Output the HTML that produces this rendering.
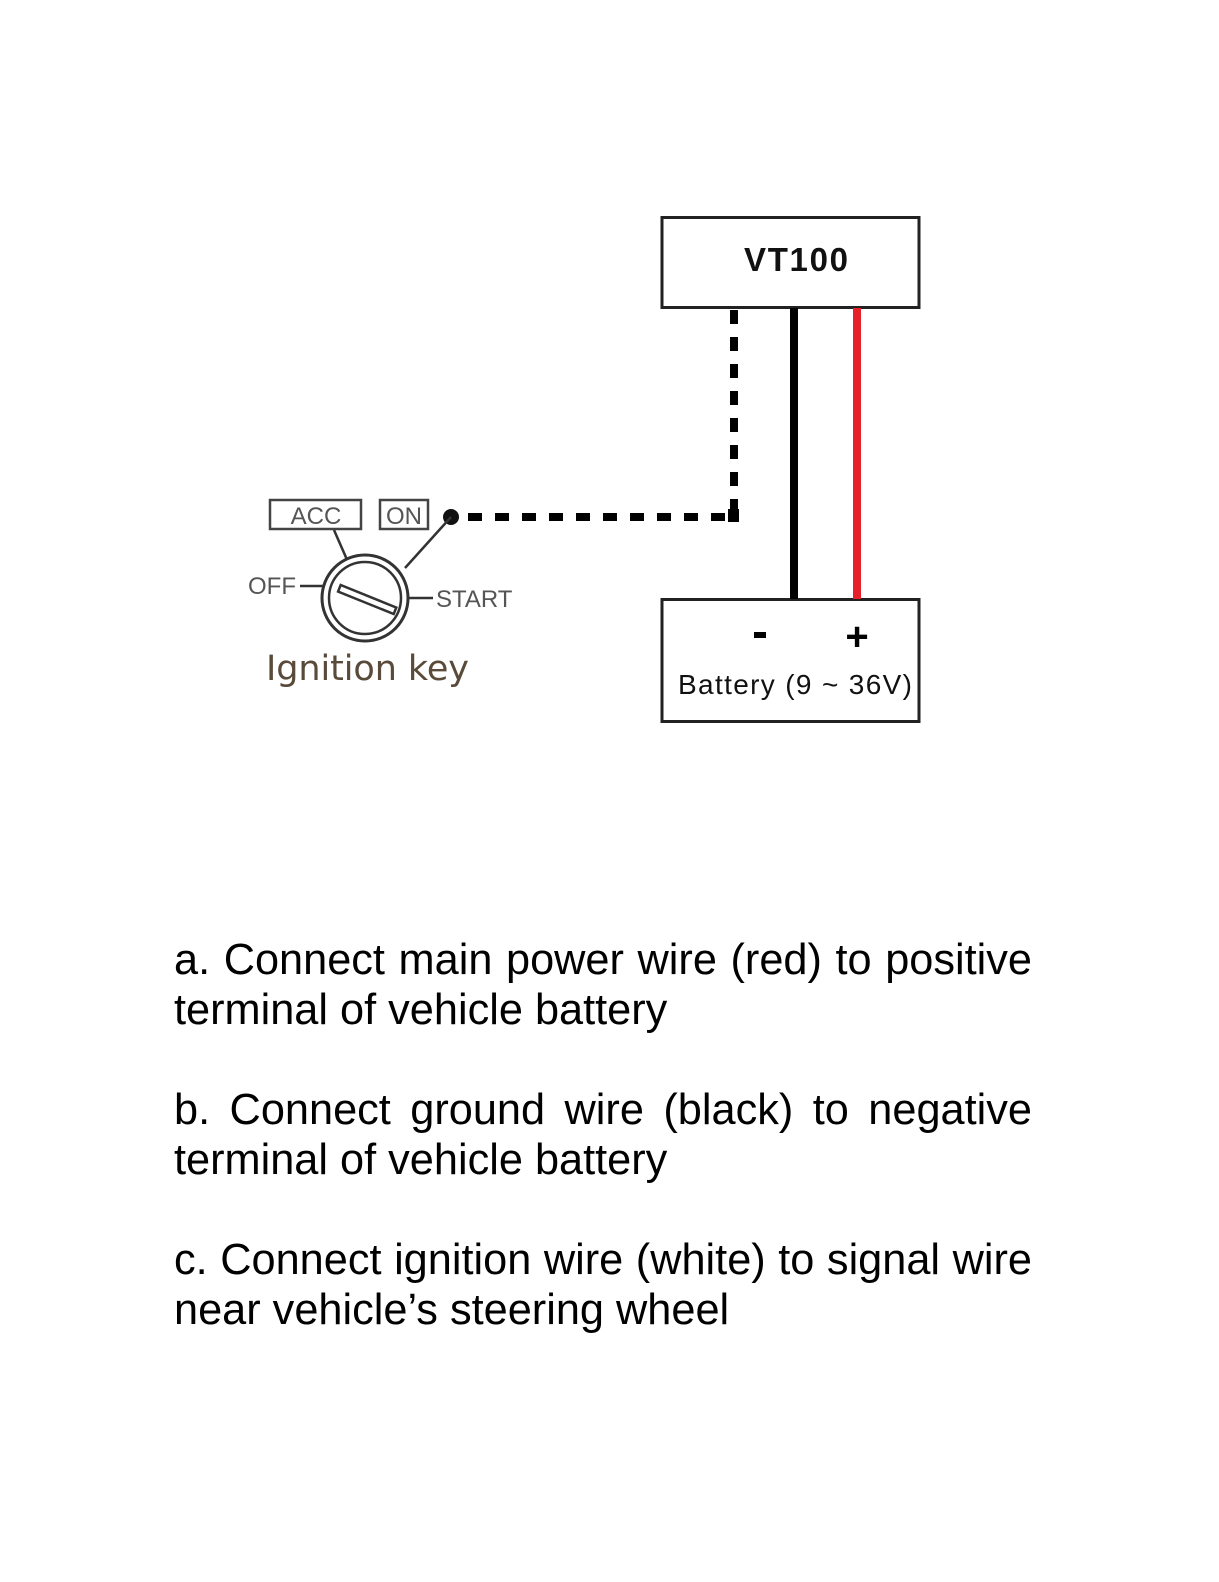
<!DOCTYPE html>
<html><head><meta charset="utf-8"><style>
body{margin:0;width:1219px;height:1582px;background:#fff;position:relative;overflow:hidden;font-family:"Liberation Sans",sans-serif}
.l{position:absolute;left:174px;width:858px;font-size:43.3px;line-height:50px;color:#000;white-space:nowrap}
.j{text-align:justify;text-align-last:justify;white-space:normal}
</style></head><body>
<svg width="1219" height="900" style="position:absolute;left:0;top:0" xmlns="http://www.w3.org/2000/svg">
<rect x="662" y="217.5" width="257" height="90" fill="#fff" stroke="#222" stroke-width="3"/>
<text x="796" y="271" text-anchor="middle" font-family="Liberation Sans, sans-serif" font-weight="bold" font-size="33" fill="#111" textLength="104">VT100</text>
<rect x="662" y="599.5" width="257" height="122" fill="#fff" stroke="#222" stroke-width="3"/>
<line x1="794" y1="308" x2="794" y2="599" stroke="#000" stroke-width="8"/>
<line x1="857" y1="308" x2="857" y2="599" stroke="#e8202a" stroke-width="8"/>
<rect x="754" y="632" width="12" height="6" fill="#000"/>
<text x="857" y="650" text-anchor="middle" font-family="Liberation Sans, sans-serif" font-weight="bold" font-size="40" fill="#000">+</text>
<text x="678" y="694" font-family="Liberation Sans, sans-serif" font-size="28" fill="#111" textLength="234">Battery (9 ~ 36V)</text>
<path d="M734 310 V517 H452" fill="none" stroke="#000" stroke-width="8" stroke-dasharray="14 13"/>
<rect x="728" y="509" width="11" height="13" fill="#000"/>
<circle cx="451" cy="517" r="8" fill="#111"/>
<line x1="451" y1="517" x2="405" y2="568" stroke="#333" stroke-width="2.5"/>
<rect x="270" y="500" width="91" height="29" fill="#fff" stroke="#444" stroke-width="2.5"/>
<text x="316" y="524" text-anchor="middle" font-family="Liberation Sans, sans-serif" font-size="24" fill="#555">ACC</text>
<rect x="380" y="500" width="48" height="29" fill="#fff" stroke="#444" stroke-width="2.5"/>
<text x="404" y="524" text-anchor="middle" font-family="Liberation Sans, sans-serif" font-size="24" fill="#555">ON</text>
<line x1="334" y1="530" x2="348" y2="562" stroke="#333" stroke-width="2.5"/>
<circle cx="365" cy="598" r="43" fill="#fff" stroke="#333" stroke-width="3"/>
<circle cx="365" cy="598" r="36" fill="none" stroke="#333" stroke-width="2.5"/>
<g transform="rotate(22 367 600)"><rect x="337" y="596" width="60" height="7" fill="#fff" stroke="#333" stroke-width="2.5"/></g>
<line x1="300" y1="586" x2="323" y2="586" stroke="#333" stroke-width="2.5"/>
<text x="248" y="594" font-family="Liberation Sans, sans-serif" font-size="24" fill="#555">OFF</text>
<line x1="408" y1="598" x2="433" y2="598" stroke="#333" stroke-width="2.5"/>
<text x="436" y="607" font-family="Liberation Sans, sans-serif" font-size="24" fill="#555">START</text>
<text x="266" y="680" font-family="DejaVu Sans, sans-serif" font-size="35" fill="#5a4a3a" textLength="203">Ignition key</text>
</svg>
<div class="l j" style="top:935px">a. Connect main power wire (red) to positive</div>
<div class="l" style="top:985px">terminal of vehicle battery</div>
<div class="l j" style="top:1085px">b. Connect ground wire (black) to negative</div>
<div class="l" style="top:1135px">terminal of vehicle battery</div>
<div class="l j" style="top:1235px">c. Connect ignition wire (white) to signal wire</div>
<div class="l" style="top:1285px">near vehicle’s steering wheel</div>
</body></html>
